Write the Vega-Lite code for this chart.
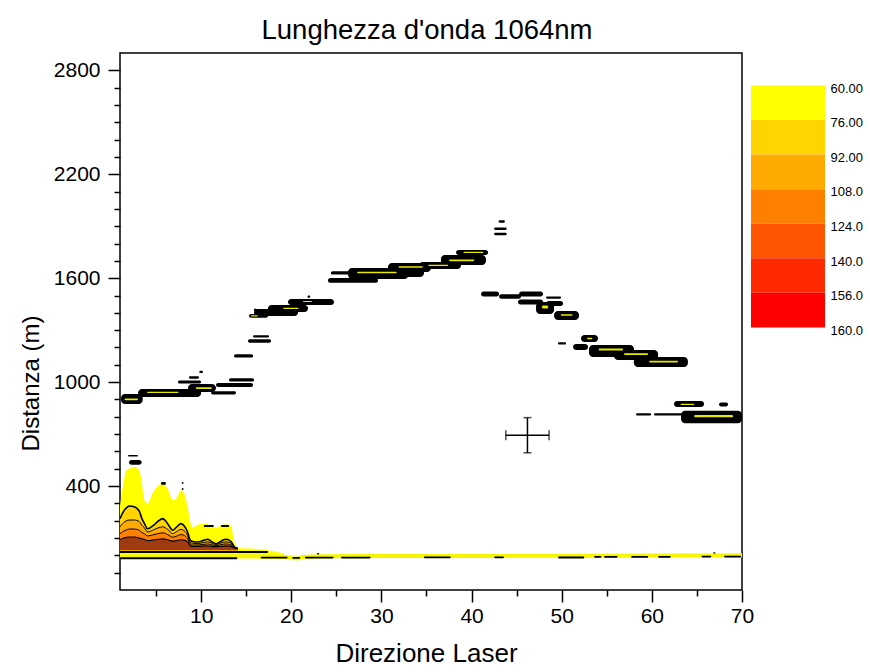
{
  "$schema": "https://vega.github.io/schema/vega-lite/v6.json",
  "background": "white",
  "padding": {"left": 18, "top": 15, "right": 0, "bottom": 0},
  "bounds": "flush",
  "spacing": 9,
  "config": {"font": "Liberation Sans", "view": {"stroke": null}},
  "resolve": {"scale": {"x": "independent", "y": "independent", "color": "independent"}},
  "datasets": {
    "mtn": [
      {"x": 1.0, "top": 285, "c1": 212, "c2": 165, "c3": 125, "c4": 90},
      {"x": 1.41, "top": 424, "c1": 255, "c2": 190, "c3": 140, "c4": 100},
      {"x": 1.67, "top": 488, "c1": 272, "c2": 198, "c3": 146, "c4": 103},
      {"x": 2.03, "top": 500, "c1": 285, "c2": 204, "c3": 152, "c4": 106},
      {"x": 2.59, "top": 510, "c1": 280, "c2": 204, "c3": 152, "c4": 106},
      {"x": 3.14, "top": 491, "c1": 255, "c2": 195, "c3": 145, "c4": 100},
      {"x": 3.41, "top": 424, "c1": 215, "c2": 175, "c3": 133, "c4": 96},
      {"x": 3.7, "top": 320, "c1": 185, "c2": 160, "c3": 125, "c4": 92},
      {"x": 4.07, "top": 300, "c1": 154, "c2": 135, "c3": 112, "c4": 85},
      {"x": 4.63, "top": 360, "c1": 170, "c2": 145, "c3": 118, "c4": 88},
      {"x": 5.18, "top": 398, "c1": 195, "c2": 158, "c3": 125, "c4": 92},
      {"x": 5.74, "top": 414, "c1": 212, "c2": 165, "c3": 130, "c4": 95},
      {"x": 6.29, "top": 385, "c1": 183, "c2": 150, "c3": 120, "c4": 90},
      {"x": 6.85, "top": 320, "c1": 145, "c2": 125, "c3": 105, "c4": 82},
      {"x": 7.21, "top": 325, "c1": 160, "c2": 135, "c3": 110, "c4": 85},
      {"x": 7.77, "top": 376, "c1": 183, "c2": 150, "c3": 120, "c4": 90},
      {"x": 8.13, "top": 356, "c1": 170, "c2": 142, "c3": 115, "c4": 87},
      {"x": 8.5, "top": 280, "c1": 135, "c2": 115, "c3": 97, "c4": 78},
      {"x": 8.8, "top": 193, "c1": 87, "c2": 75, "c3": 65, "c4": 55},
      {"x": 9.06, "top": 160, "c1": 80, "c2": 70, "c3": 60, "c4": 52},
      {"x": 9.62, "top": 176, "c1": 77, "c2": 68, "c3": 60, "c4": 52},
      {"x": 10.35, "top": 183, "c1": 88, "c2": 75, "c3": 64, "c4": 55},
      {"x": 10.73, "top": 180, "c1": 93, "c2": 78, "c3": 66, "c4": 55},
      {"x": 11.1, "top": 169, "c1": 82, "c2": 72, "c3": 62, "c4": 52},
      {"x": 11.65, "top": 160, "c1": 67, "c2": 60, "c3": 55, "c4": 50},
      {"x": 12.2, "top": 172, "c1": 82, "c2": 72, "c3": 62, "c4": 52},
      {"x": 12.76, "top": 180, "c1": 93, "c2": 78, "c3": 66, "c4": 55},
      {"x": 13.31, "top": 169, "c1": 80, "c2": 70, "c3": 60, "c4": 52},
      {"x": 13.68, "top": 77, "c1": 50, "c2": 47, "c3": 45, "c4": 44},
      {"x": 14.06, "top": 43, "c1": 40, "c2": 40, "c3": 40, "c4": 40},
      {"x": 15.53, "top": 39},
      {"x": 17.39, "top": 29},
      {"x": 19.2, "top": 10}
    ],
    "blobs": [
      {"k": "b", "x1": 1.11, "x2": 3.52, "y1": 874, "y2": 932},
      {"k": "b", "x1": 3.0, "x2": 10.0, "y1": 914, "y2": 960},
      {"k": "b", "x1": 7.43, "x2": 9.99, "y1": 992, "y2": 1010},
      {"k": "b", "x1": 8.54, "x2": 11.65, "y1": 943, "y2": 989},
      {"k": "b", "x1": 11.1, "x2": 13.87, "y1": 929, "y2": 947},
      {"k": "b", "x1": 8.65, "x2": 9.76, "y1": 1020, "y2": 1034},
      {"k": "b", "x1": 9.8, "x2": 10.2, "y1": 1053, "y2": 1065},
      {"k": "b", "x1": 11.65, "x2": 15.76, "y1": 972, "y2": 995},
      {"k": "b", "x1": 13.09, "x2": 15.87, "y1": 1003, "y2": 1022},
      {"k": "b", "x1": 13.65, "x2": 15.76, "y1": 1142, "y2": 1161},
      {"k": "b", "x1": 15.2, "x2": 17.75, "y1": 1228, "y2": 1247},
      {"k": "b", "x1": 15.76, "x2": 17.53, "y1": 1257, "y2": 1270},
      {"k": "b", "x1": 15.31, "x2": 17.42, "y1": 1371, "y2": 1394},
      {"k": "b", "x1": 15.85, "x2": 16.15, "y1": 1411, "y2": 1423},
      {"k": "b", "x1": 15.87, "x2": 20.75, "y1": 1382, "y2": 1422},
      {"k": "b", "x1": 17.42, "x2": 21.86, "y1": 1405, "y2": 1445},
      {"k": "b", "x1": 19.64, "x2": 24.74, "y1": 1445, "y2": 1480},
      {"k": "b", "x1": 21.8, "x2": 22.1, "y1": 1486, "y2": 1500},
      {"k": "b", "x1": 24.07, "x2": 29.62, "y1": 1573, "y2": 1601},
      {"k": "b", "x1": 24.4, "x2": 31.4, "y1": 1621, "y2": 1640},
      {"k": "b", "x1": 26.3, "x2": 33.0, "y1": 1596, "y2": 1659},
      {"k": "b", "x1": 30.73, "x2": 35.5, "y1": 1636, "y2": 1688},
      {"k": "b", "x1": 32.17, "x2": 34.73, "y1": 1607, "y2": 1676},
      {"k": "b", "x1": 34.17, "x2": 38.83, "y1": 1653, "y2": 1694},
      {"k": "b", "x1": 36.6, "x2": 41.6, "y1": 1676, "y2": 1734},
      {"k": "b", "x1": 38.28, "x2": 41.83, "y1": 1734, "y2": 1763},
      {"k": "b", "x1": 43.0, "x2": 43.7, "y1": 1920, "y2": 1934},
      {"k": "b", "x1": 42.5, "x2": 43.9, "y1": 1878, "y2": 1892},
      {"k": "b", "x1": 42.5, "x2": 43.9, "y1": 1848, "y2": 1862},
      {"k": "b", "x1": 41.05, "x2": 43.05, "y1": 1495, "y2": 1523},
      {"k": "b", "x1": 43.05, "x2": 45.49, "y1": 1482, "y2": 1507},
      {"k": "b", "x1": 45.27, "x2": 47.93, "y1": 1495, "y2": 1523},
      {"k": "b", "x1": 45.15, "x2": 47.93, "y1": 1448, "y2": 1477},
      {"k": "b", "x1": 48.26, "x2": 49.93, "y1": 1482, "y2": 1495},
      {"k": "b", "x1": 47.15, "x2": 49.15, "y1": 1394, "y2": 1463},
      {"k": "b", "x1": 48.26, "x2": 50.15, "y1": 1440, "y2": 1469},
      {"k": "b", "x1": 49.15, "x2": 51.92, "y1": 1359, "y2": 1411},
      {"k": "b", "x1": 49.59, "x2": 50.48, "y1": 1217, "y2": 1230},
      {"k": "b", "x1": 51.26, "x2": 52.92, "y1": 1186, "y2": 1220},
      {"k": "b", "x1": 52.14, "x2": 54.03, "y1": 1232, "y2": 1272},
      {"k": "b", "x1": 53.03, "x2": 58.02, "y1": 1145, "y2": 1215},
      {"k": "b", "x1": 55.8, "x2": 60.69, "y1": 1128, "y2": 1186},
      {"k": "b", "x1": 58.0, "x2": 64.0, "y1": 1088, "y2": 1145},
      {"k": "b", "x1": 58.25, "x2": 59.91, "y1": 807, "y2": 820},
      {"k": "b", "x1": 60.24, "x2": 64.0, "y1": 807, "y2": 820},
      {"k": "b", "x1": 62.46, "x2": 65.79, "y1": 857, "y2": 891},
      {"k": "b", "x1": 67.45, "x2": 68.45, "y1": 860, "y2": 882},
      {"k": "b", "x1": 63.24, "x2": 70.0, "y1": 762, "y2": 835},
      {"k": "b", "x1": 1.89, "x2": 3.0, "y1": 570, "y2": 580},
      {"k": "b", "x1": 2.0, "x2": 3.4, "y1": 523, "y2": 551},
      {"k": "b", "x1": 5.54, "x2": 6.1, "y1": 407, "y2": 424},
      {"k": "b", "x1": 7.85, "x2": 8.05, "y1": 413, "y2": 424},
      {"k": "b", "x1": 7.85, "x2": 8.05, "y1": 378, "y2": 389},
      {"k": "b", "x1": 10.3, "x2": 11.4, "y1": 164, "y2": 175},
      {"k": "b", "x1": 12.2, "x2": 13.1, "y1": 164, "y2": 175},
      {"k": "b", "x1": 16.6, "x2": 19.6, "y1": -18, "y2": -8},
      {"k": "b", "x1": 20.1, "x2": 21.0, "y1": -20, "y2": -10},
      {"k": "b", "x1": 21.5, "x2": 24.7, "y1": -18, "y2": -8},
      {"k": "b", "x1": 25.5, "x2": 28.8, "y1": -18, "y2": -8},
      {"k": "b", "x1": 34.7, "x2": 37.7, "y1": -16, "y2": -6},
      {"k": "b", "x1": 42.5, "x2": 43.6, "y1": -16, "y2": -6},
      {"k": "b", "x1": 49.6, "x2": 52.5, "y1": -18, "y2": -6},
      {"k": "b", "x1": 53.6, "x2": 54.4, "y1": -14, "y2": -4},
      {"k": "b", "x1": 54.7, "x2": 56.2, "y1": -14, "y2": -4},
      {"k": "b", "x1": 57.7, "x2": 59.6, "y1": -14, "y2": -4},
      {"k": "b", "x1": 60.7, "x2": 62.1, "y1": -14, "y2": -4},
      {"k": "b", "x1": 65.5, "x2": 66.6, "y1": -12, "y2": -2},
      {"k": "b", "x1": 68.0, "x2": 69.9, "y1": -12, "y2": -2},
      {"k": "b", "x1": 22.85, "x2": 23.1, "y1": 5, "y2": 14},
      {"k": "b", "x1": 66.8, "x2": 67.05, "y1": 10, "y2": 18},
      {"k": "y", "x1": 1.5, "x2": 3.0, "y1": 895, "y2": 905},
      {"k": "y", "x1": 4.0, "x2": 7.5, "y1": 937, "y2": 945},
      {"k": "y", "x1": 9.4, "x2": 11.2, "y1": 961, "y2": 970},
      {"k": "y", "x1": 15.5, "x2": 16.3, "y1": 1379, "y2": 1386},
      {"k": "y", "x1": 19.1, "x2": 20.8, "y1": 1422, "y2": 1430},
      {"k": "y", "x1": 21.3, "x2": 22.3, "y1": 1462, "y2": 1469},
      {"k": "y", "x1": 27.3, "x2": 31.7, "y1": 1628, "y2": 1637},
      {"k": "y", "x1": 31.9, "x2": 34.6, "y1": 1660, "y2": 1669},
      {"k": "y", "x1": 35.2, "x2": 37.4, "y1": 1671, "y2": 1678},
      {"k": "y", "x1": 37.5, "x2": 40.3, "y1": 1698, "y2": 1708},
      {"k": "y", "x1": 39.1, "x2": 41.3, "y1": 1745, "y2": 1752},
      {"k": "y", "x1": 47.8, "x2": 48.5, "y1": 1425, "y2": 1443},
      {"k": "y", "x1": 49.9, "x2": 51.2, "y1": 1383, "y2": 1392},
      {"k": "y", "x1": 52.8, "x2": 53.4, "y1": 1248, "y2": 1256},
      {"k": "y", "x1": 54.1, "x2": 56.8, "y1": 1182, "y2": 1194},
      {"k": "y", "x1": 56.9, "x2": 59.6, "y1": 1157, "y2": 1167},
      {"k": "y", "x1": 59.7, "x2": 62.9, "y1": 1113, "y2": 1124},
      {"k": "y", "x1": 63.2, "x2": 64.7, "y1": 868, "y2": 875},
      {"k": "y", "x1": 64.7, "x2": 69.0, "y1": 797, "y2": 810}
    ],
    "base": [
      {"x": 1, "y": -6}, {"x": 10, "y": -6}, {"x": 14, "y": -6}, {"x": 17.4, "y": -8},
      {"x": 19.5, "y": -10}, {"x": 20.6, "y": -18}, {"x": 21.3, "y": -10}, {"x": 23, "y": -5},
      {"x": 27, "y": -4}, {"x": 32, "y": -3}, {"x": 38, "y": -3}, {"x": 44, "y": -3},
      {"x": 50, "y": -2}, {"x": 56, "y": -2}, {"x": 62, "y": -1}, {"x": 66, "y": -1}, {"x": 70, "y": 1}
    ],
    "hl": [
      {"x1": 1, "x2": 17.4, "y": 19},
      {"x1": 1, "x2": 14, "y": -17}
    ],
    "err": [
      {"xc": 46.2, "xlo": 43.8, "xhi": 48.6, "yc": 693, "ylo": 592, "yhi": 795}
    ],
    "leg": [
      {"lab": "60.00"}, {"lab": "76.00"}, {"lab": "92.00"}, {"lab": "108.0"},
      {"lab": "124.0"}, {"lab": "140.0"}, {"lab": "156.0"}
    ]
  },
  "hconcat": [
    {
      "width": 622,
      "height": 537,
      "view": {"stroke": "black", "strokeWidth": 1.5},
      "title": {"text": "Lunghezza d'onda 1064nm", "fontSize": 27.5, "fontWeight": "normal", "color": "black", "offset": 9, "anchor": "middle", "frame": "group", "dx": -4},
      "resolve": {"axis": {"x": "independent", "y": "independent"}},
      "layer": [
        {
          "data": {"name": "mtn"},
          "mark": {"type": "area", "color": "#FFFF00", "interpolate": "monotone"},
          "encoding": {
            "x": {"field": "x", "type": "quantitative", "scale": {"domain": [1, 70], "nice": false, "zero": false},
              "axis": {"orient": "bottom", "values": [10, 20, 30, 40, 50, 60, 70], "format": "d", "domain": false, "grid": false, "tickSize": 12, "tickWidth": 1.5, "tickColor": "black", "labelFontSize": 21, "labelColor": "black", "labelPadding": 3, "labelFlush": false, "labelOverlap": false, "title": "Direzione Laser", "titleFontSize": 26, "titleFontWeight": "normal", "titleColor": "black", "titlePadding": 14, "titleX": 306}},
            "y": {"field": "top", "type": "quantitative", "scale": {"domain": [-200, 2900], "nice": false, "zero": false},
              "axis": {"orient": "left", "values": [400, 1000, 1600, 2200, 2800], "format": "d", "domain": false, "grid": false, "tickSize": 12, "tickWidth": 1.5, "tickColor": "black", "labelFontSize": 21, "labelColor": "black", "labelPadding": 8, "labelOverlap": false, "title": "Distanza (m)", "titleFontSize": 24, "titleFontWeight": "normal", "titleColor": "black", "titlePadding": 10, "titleY": 330}},
            "y2": {"datum": 0}
          }
        },
        {
          "data": {"name": "mtn"},
          "transform": [{"filter": "isValid(datum.c1)"}],
          "mark": {"type": "area", "color": "#FFD400", "interpolate": "monotone"},
          "encoding": {
            "x": {"field": "x", "type": "quantitative", "axis": null},
            "y": {"field": "c1", "type": "quantitative", "axis": null},
            "y2": {"datum": 30}
          }
        },
        {
          "data": {"name": "mtn"},
          "transform": [{"filter": "isValid(datum.c2)"}],
          "mark": {"type": "area", "color": "#FFAA00", "interpolate": "monotone"},
          "encoding": {
            "x": {"field": "x", "type": "quantitative", "axis": null},
            "y": {"field": "c2", "type": "quantitative", "axis": null},
            "y2": {"datum": 30}
          }
        },
        {
          "data": {"name": "mtn"},
          "transform": [{"filter": "isValid(datum.c3)"}],
          "mark": {"type": "area", "color": "#FF8000", "interpolate": "monotone"},
          "encoding": {
            "x": {"field": "x", "type": "quantitative", "axis": null},
            "y": {"field": "c3", "type": "quantitative", "axis": null},
            "y2": {"datum": 30}
          }
        },
        {
          "data": {"name": "mtn"},
          "transform": [{"filter": "isValid(datum.c4)"}],
          "mark": {"type": "area", "color": "#A03A10", "interpolate": "monotone"},
          "encoding": {
            "x": {"field": "x", "type": "quantitative", "axis": null},
            "y": {"field": "c4", "type": "quantitative", "axis": null},
            "y2": {"datum": 30}
          }
        },
        {
          "data": {"name": "mtn"},
          "transform": [{"filter": "isValid(datum.c1)"}],
          "mark": {"type": "line", "color": "black", "strokeWidth": 1.6, "interpolate": "monotone"},
          "encoding": {
            "x": {"field": "x", "type": "quantitative", "axis": null},
            "y": {"field": "c1", "type": "quantitative", "axis": null}
          }
        },
        {
          "data": {"name": "mtn"},
          "transform": [{"filter": "isValid(datum.c2)"}],
          "mark": {"type": "line", "color": "black", "strokeWidth": 1, "interpolate": "monotone"},
          "encoding": {
            "x": {"field": "x", "type": "quantitative", "axis": null},
            "y": {"field": "c2", "type": "quantitative", "axis": null}
          }
        },
        {
          "data": {"name": "mtn"},
          "transform": [{"filter": "isValid(datum.c3)"}],
          "mark": {"type": "line", "color": "black", "strokeWidth": 1, "interpolate": "monotone"},
          "encoding": {
            "x": {"field": "x", "type": "quantitative", "axis": null},
            "y": {"field": "c3", "type": "quantitative", "axis": null}
          }
        },
        {
          "data": {"name": "mtn"},
          "transform": [{"filter": "isValid(datum.c4)"}],
          "mark": {"type": "line", "color": "black", "strokeWidth": 1.2, "interpolate": "monotone"},
          "encoding": {
            "x": {"field": "x", "type": "quantitative", "axis": null},
            "y": {"field": "c4", "type": "quantitative", "axis": null}
          }
        },
        {
          "data": {"name": "base"},
          "mark": {"type": "line", "color": "#F5F500", "strokeWidth": 4, "interpolate": "monotone"},
          "encoding": {
            "x": {"field": "x", "type": "quantitative", "axis": null},
            "y": {"field": "y", "type": "quantitative", "axis": null}
          }
        },
        {
          "data": {"name": "hl"},
          "mark": {"type": "rule", "color": "black", "strokeWidth": 2},
          "encoding": {
            "x": {"field": "x1", "type": "quantitative", "axis": null},
            "x2": {"field": "x2"},
            "y": {"field": "y", "type": "quantitative", "axis": null}
          }
        },
        {
          "data": {"name": "blobs"},
          "transform": [{"filter": "datum.k == 'b'"}],
          "mark": {"type": "rect", "color": "black", "cornerRadius": 4},
          "encoding": {
            "x": {"field": "x1", "type": "quantitative", "axis": null},
            "x2": {"field": "x2"},
            "y": {"field": "y1", "type": "quantitative", "axis": null},
            "y2": {"field": "y2"}
          }
        },
        {
          "data": {"name": "blobs"},
          "transform": [{"filter": "datum.k == 'y'"}],
          "mark": {"type": "rect", "color": "#E8E800", "cornerRadius": 2},
          "encoding": {
            "x": {"field": "x1", "type": "quantitative", "scale": {"domain": [1, 70], "nice": false, "zero": false},
              "axis": {"orient": "bottom", "values": [5, 15, 25, 35, 45, 55, 65], "labels": false, "domain": false, "grid": false, "tickSize": 6, "tickWidth": 1.5, "tickColor": "black", "title": null}},
            "x2": {"field": "x2"},
            "y": {"field": "y1", "type": "quantitative", "scale": {"domain": [-200, 2900], "nice": false, "zero": false},
              "axis": {"orient": "left", "values": [-100, 0, 100, 200, 300, 500, 600, 700, 800, 900, 1100, 1200, 1300, 1400, 1500, 1700, 1800, 1900, 2000, 2100, 2300, 2400, 2500, 2600, 2700], "labels": false, "domain": false, "grid": false, "tickSize": 6, "tickWidth": 1.5, "tickColor": "black", "title": null}},
            "y2": {"field": "y2"}
          }
        },
        {
          "data": {"name": "err"},
          "mark": {"type": "errorbar", "ticks": {"size": 10, "thickness": 1.5, "color": "black"}, "rule": {"strokeWidth": 1.5, "color": "black"}},
          "encoding": {
            "x": {"field": "xlo", "type": "quantitative", "axis": null},
            "x2": {"field": "xhi"},
            "y": {"field": "yc", "type": "quantitative", "axis": null}
          }
        },
        {
          "data": {"name": "err"},
          "mark": {"type": "errorbar", "ticks": {"size": 8, "thickness": 1.5, "color": "black"}, "rule": {"strokeWidth": 1.5, "color": "black"}},
          "encoding": {
            "y": {"field": "ylo", "type": "quantitative", "axis": null},
            "y2": {"field": "yhi"},
            "x": {"field": "xc", "type": "quantitative", "axis": null}
          }
        }
      ]
    },
    {
      "width": 74,
      "height": 309,
      "view": {"stroke": null},
      "data": {"name": "leg"},
      "mark": {"type": "rect"},
      "encoding": {
        "y": {"field": "lab", "type": "nominal",
          "scale": {"domain": ["60.00", "76.00", "92.00", "108.0", "124.0", "140.0", "156.0", "160.0"], "paddingInner": 0, "paddingOuter": 0.4697, "align": 1},
          "axis": {"orient": "right", "title": null, "ticks": false, "domain": false, "labelPadding": 5, "labelFontSize": 13, "labelColor": "black", "labelOffset": -14, "labelAngle": 0}},
        "color": {"field": "lab", "type": "nominal",
          "scale": {"domain": ["60.00", "76.00", "92.00", "108.0", "124.0", "140.0", "156.0"], "range": ["#FFFF00", "#FFD400", "#FFAA00", "#FF8000", "#FF5500", "#FF2A00", "#FF0000"]},
          "legend": null}
      }
    }
  ]
}
